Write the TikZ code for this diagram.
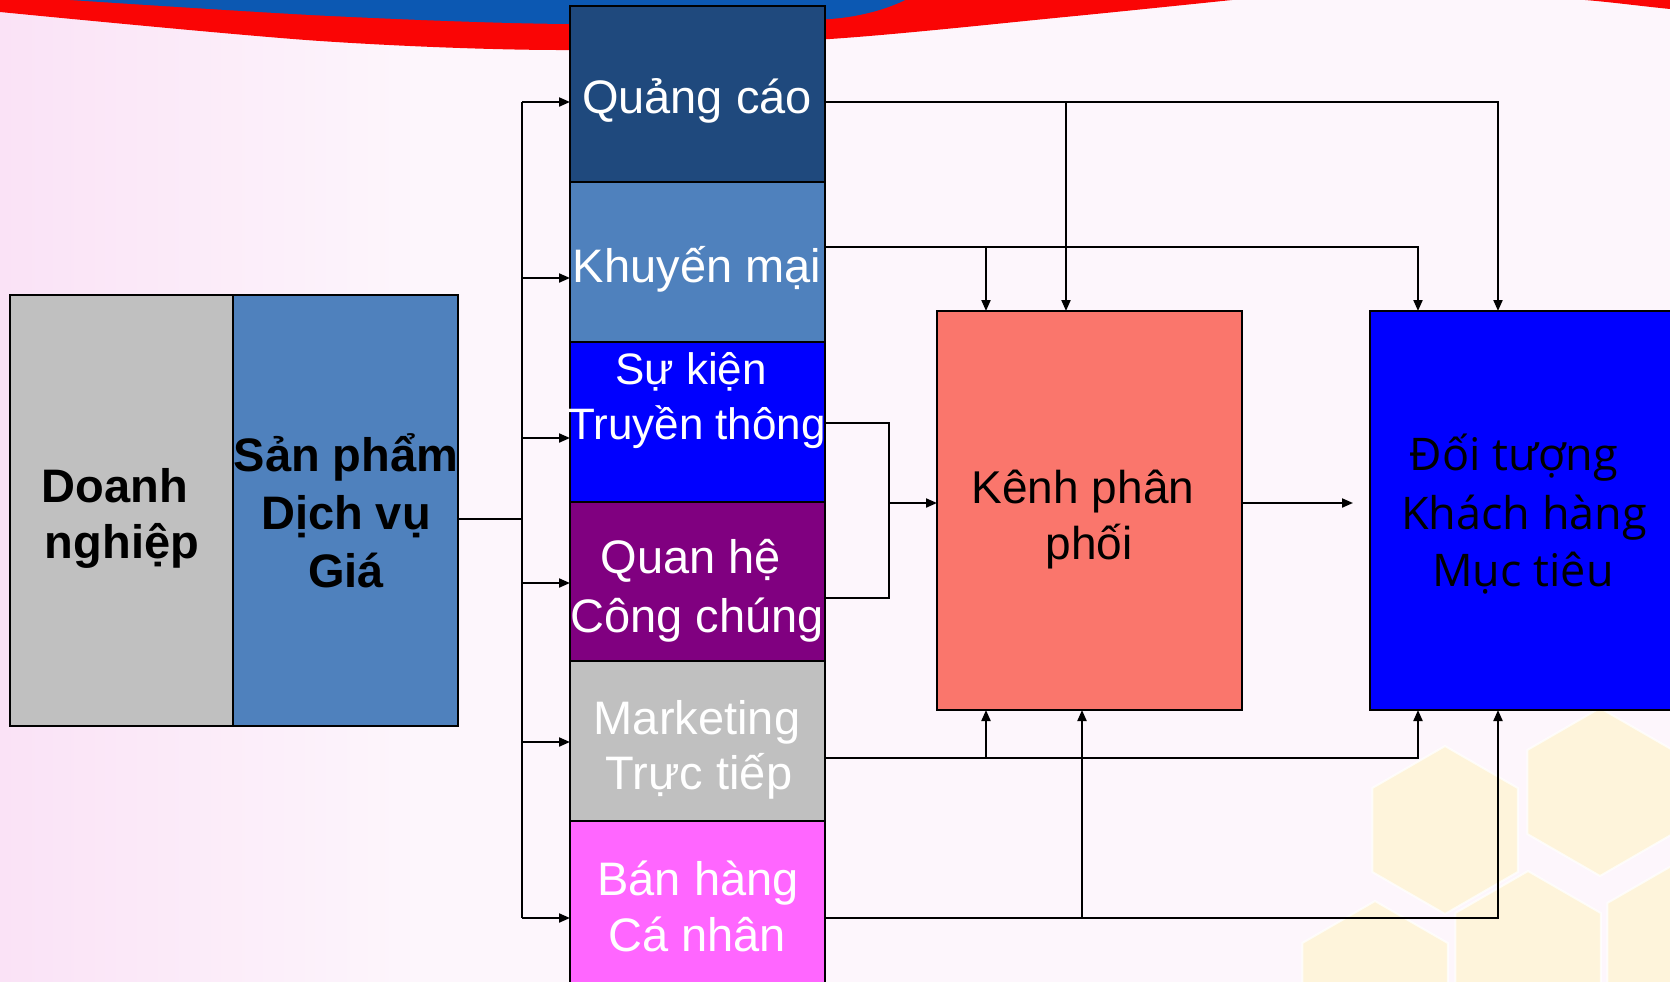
\documentclass[tikz,border=0pt]{standalone}
\usepackage{fontspec}
\setmainfont{Liberation Sans}
\newfontfamily\dtfont{Open Sans}
\usetikzlibrary{arrows.meta}
\definecolor{bgc}{RGB}{253,246,252}
\definecolor{bgl}{RGB}{250,226,246}
\definecolor{swred}{RGB}{250,5,5}
\definecolor{swblue}{RGB}{12,88,178}
\definecolor{hexc}{RGB}{255,244,208}
\definecolor{cqc}{RGB}{31,73,125}
\definecolor{ckm}{RGB}{79,129,189}
\definecolor{csk}{RGB}{0,0,255}
\definecolor{cqh}{RGB}{128,0,128}
\definecolor{cmk}{RGB}{192,192,192}
\definecolor{cbh}{RGB}{255,102,255}
\definecolor{ckp}{RGB}{250,118,108}
\begin{document}
\begin{tikzpicture}[x=1pt,y=-1pt,
  box/.style={draw=black, line width=2.2pt, inner sep=0pt, outer sep=0pt, anchor=north west},
  conn/.style={draw=black, line width=2pt},
  arr/.style={conn, -{Triangle[length=11pt,width=9pt]}},
  wt/.style={text=white, font=\fontsize{47}{56}\selectfont, anchor=base, inner sep=0pt},
  wts/.style={wt, font=\fontsize{44}{52}\selectfont},
  bt/.style={text=black, font=\fontsize{46}{55}\selectfont, anchor=base, inner sep=0pt},
  bbt/.style={text=black, font=\bfseries\fontsize{47}{56}\selectfont, anchor=base, inner sep=0pt},
  dtt/.style={text=black, font=\dtfont\fontsize{45}{54}\selectfont, anchor=base, inner sep=0pt}
]
% background
\useasboundingbox (0,0) rectangle (1670,982);
\fill[bgc] (0,0) rectangle (1670,982);
\shade[left color=bgl, right color=bgc] (0,0) rectangle (420,982);
% swoosh
\fill[swred] (0,0) -- (1232,0) -- plot[smooth] coordinates {(1232,0) (1065,17) (830,39) (570,50) (320,41) (0,12)} -- cycle;
\fill[swblue] (70,0) -- (905,0) -- plot[smooth] coordinates {(905,0) (830,19) (570,24) (330,16) (70,0)} -- cycle;
\fill[swred] (1585,0) -- (1670,0) -- (1670,9) .. controls (1640,6) and (1610,2) .. (1585,0) -- cycle;
% hexagons
\begin{scope}[opacity=0.75]
\foreach \cx/\cy in {1445/830, 1600/792, 1375/985, 1528/955, 1680/945}{
  \fill[hexc, draw=white, line width=2pt, shift={(\cx,\cy)}]
    (90:84) -- (150:84) -- (210:84) -- (270:84) -- (330:84) -- (30:84) -- cycle;
}
\end{scope}
% left boxes
\node[box, fill=cmk, minimum width=223pt, minimum height=431pt] (dn) at (10,295) {};
\node[box, fill=ckm, minimum width=225pt, minimum height=431pt] (sp) at (233,295) {};
% column boxes
\node[box, fill=cqc, minimum width=255pt, minimum height=176pt] (qc) at (570,6) {};
\node[box, fill=ckm, minimum width=255pt, minimum height=160pt] (km) at (570,182) {};
\node[box, fill=csk, minimum width=255pt, minimum height=160pt] (sk) at (570,342) {};
\node[box, fill=cqh, minimum width=255pt, minimum height=159pt] (qh) at (570,502) {};
\node[box, fill=cmk, minimum width=255pt, minimum height=160pt] (mk) at (570,661) {};
\node[box, fill=cbh, minimum width=255pt, minimum height=170pt] (bh) at (570,821) {};
% right boxes
\node[box, fill=ckp, minimum width=305pt, minimum height=399pt] (kp) at (937,311) {};
\node[box, fill=csk, minimum width=330pt, minimum height=399pt] (dt) at (1370,311) {};
% bus
\coordinate (busM) at (522,519);
\coordinate (b1) at (522,102);
\coordinate (b2) at (522,278);
\coordinate (b3) at (522,438);
\coordinate (b4) at (522,583);
\coordinate (b5) at (522,742);
\coordinate (b6) at (522,918);
\draw[conn] (sp.east |- busM) -- (busM);
\draw[conn] (b1) -- (b6);
\draw[arr] (b1) -- (qc.west |- b1);
\draw[arr] (b2) -- (km.west |- b2);
\draw[arr] (b3) -- (sk.west |- b3);
\draw[arr] (b4) -- (qh.west |- b4);
\draw[arr] (b5) -- (mk.west |- b5);
\draw[arr] (b6) -- (bh.west |- b6);
% Quang cao
\coordinate (qcT) at (1498,102);
\coordinate (qcB) at (1066,102);
\draw[arr] (qc.east |- qcT) -- (qcT) -- (dt.north -| qcT);
\draw[arr] (qcB) -- (kp.north -| qcB);
% Khuyen mai
\coordinate (kmT) at (1418,247);
\coordinate (kmB) at (986,247);
\draw[arr] (km.east |- kmT) -- (kmT) -- (dt.north -| kmT);
\draw[arr] (kmB) -- (kp.north -| kmB);
% Su kien / Quan he
\coordinate (skT) at (889,423);
\coordinate (qhT) at (889,598);
\coordinate (kpIn) at (889,503);
\draw[conn] (sk.east |- skT) -- (skT) -- (qhT) -- (qh.east |- qhT);
\draw[arr] (kpIn) -- (kp.west |- kpIn);
% Kenh -> Doi tuong
\coordinate (dtIn) at (1353,503);
\draw[arr] (kp.east |- dtIn) -- (dtIn);
% Marketing
\coordinate (mkT) at (1418,758);
\coordinate (mkB) at (986,758);
\draw[arr] (mk.east |- mkT) -- (mkT) -- (dt.south -| mkT);
\draw[arr] (mkB) -- (kp.south -| mkB);
% Ban hang
\coordinate (bhT) at (1498,918);
\coordinate (bhB) at (1082,918);
\draw[arr] (bh.east |- bhT) -- (bhT) -- (dt.south -| bhT);
\draw[arr] (bhB) -- (kp.south -| bhB);
% texts
\node[bbt] (dn1) at (115,502) {Doanh};
\node[bbt] (dn2) at (122,558) {nghiệp};
\node[bbt] (sp1) at (346,471) {Sản phẩm};
\node[bbt] (sp2) at (346,529) {Dịch vụ};
\node[bbt] (sp3) at (346,587) {Giá};
\node[wt] (qc1) at (697,113) {Quảng cáo};
\node[wt] (km1) at (697,282) {Khuyến mại};
\node[wts] (sk1) at (691,384) {Sự kiện};
\node[wts] (sk2) at (697,439) {Truyền thông};
\node[wt] (qh1) at (691,573) {Quan hệ};
\node[wt] (qh2) at (697,632) {Công chúng};
\node[wt] (mk1) at (697,734) {Marketing};
\node[wt] (mk2) at (699,789) {Trực tiếp};
\node[wt] (bh1) at (698,895) {Bán hàng};
\node[wt] (bh2) at (697,951) {Cá nhân};
\node[bt] (kp1) at (1083,503) {Kênh phân};
\node[bt] (kp2) at (1089,559) {phối};
\node[dtt] (dt1) at (1514,470) {Đối tượng};
\node[dtt] (dt2) at (1524,529) {Khách hàng};
\node[dtt] (dt3) at (1523,586) {Mục tiêu};
\end{tikzpicture}
\end{document}
